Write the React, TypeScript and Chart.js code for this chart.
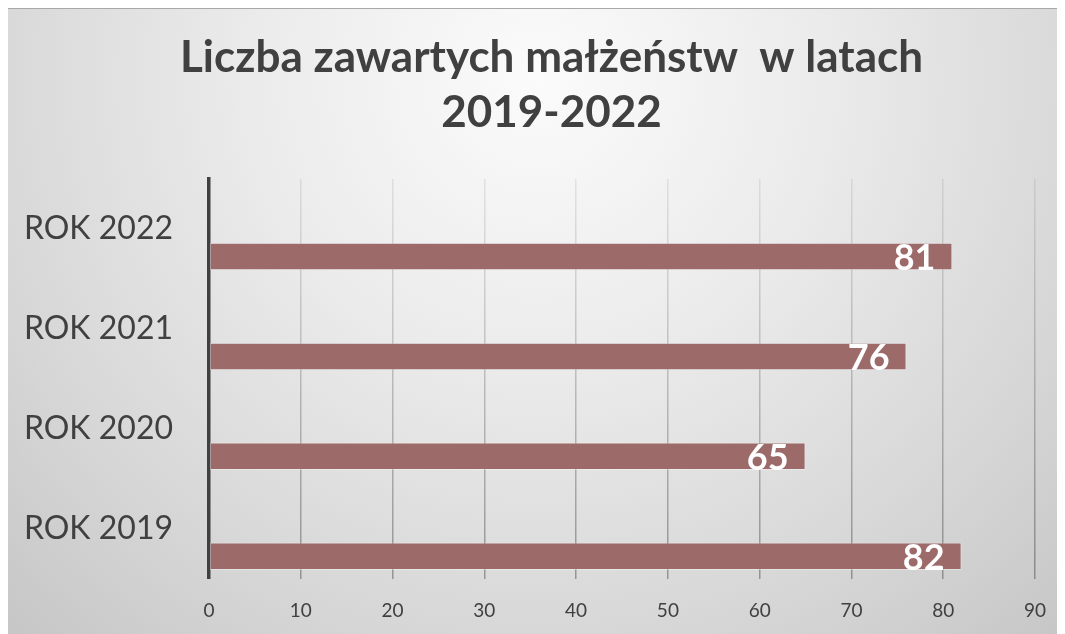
import React, { useEffect, useRef } from 'react';
import { Chart, registerables } from 'chart.js';

Chart.register(...registerables);

const categories = ['ROK 2022', 'ROK 2021', 'ROK 2020', 'ROK 2019'];
const values = [81, 76, 65, 82];
const emptySeries = [null, null, null, null];
const titleLines = ['Liczba zawartych małżeństw  w latach', '2019-2022'];
const xMin = 0;
const xMax = 90;
const xStep = 10;

const FONT = 'Lato, "Open Sans", sans-serif';
const W = 1051;
const H = 626;

const backgroundPlugin = {
  id: 'bgGradient',
  beforeDraw(chart: any) {
    const { ctx, width, height } = chart;
    ctx.save();
    const g = ctx.createRadialGradient(530, 70, 0, 530, 70, 820);
    g.addColorStop(0, '#fbfbfb');
    g.addColorStop(0.35, '#ebebeb');
    g.addColorStop(0.7, '#d6d6d6');
    g.addColorStop(1, '#c2c2c2');
    ctx.fillStyle = g;
    ctx.fillRect(0, 0, width, height);
    ctx.fillStyle = '#a8a8a8';
    ctx.fillRect(0, 0, width, 1);
    ctx.restore();
  },
};

const titleShiftPlugin = {
  id: 'titleShift',
  afterLayout(chart: any) {
    const t = chart.titleBlock;
    if (t) {
      t.left += 30;
      t.right += 30;
    }
  },
};

const barLabelPlugin = {
  id: 'barLabels',
  afterDatasetsDraw(chart: any) {
    const meta = chart.getDatasetMeta(1);
    const ctx = chart.ctx;
    ctx.save();
    ctx.font = `bold 36px ${FONT}`;
    ctx.fillStyle = '#ffffff';
    ctx.textAlign = 'right';
    ctx.textBaseline = 'alphabetic';
    meta.data.forEach((bar: any, i: number) => {
      const v = chart.data.datasets[1].data[i];
      ctx.fillText(String(v), bar.x - 17, bar.y + 13.5);
    });
    ctx.restore();
  },
};

export default function App() {
  const ref = useRef<HTMLCanvasElement | null>(null);

  useEffect(() => {
    if (!ref.current) return;
    const chart = new Chart(ref.current, {
      type: 'bar',
      data: {
        labels: categories,
        datasets: [
          {
            label: '',
            data: emptySeries as any,
            backgroundColor: '#9c6a69',
          },
          {
            label: 'Liczba',
            data: values,
            backgroundColor: '#9c6a69',
            borderColor: 'rgba(255,255,255,0.35)',
            borderWidth: 1,
            borderSkipped: false,
          },
        ],
      },
      options: {
        indexAxis: 'y',
        responsive: false,
        animation: false,
        categoryPercentage: 1.1,
        barPercentage: 0.5,
        layout: { padding: { left: 0, right: 24, top: 0, bottom: 0 } },
        plugins: {
          legend: { display: false },
          tooltip: { enabled: false },
          title: {
            display: true,
            text: titleLines,
            color: '#404040',
            font: { family: FONT, size: 44, weight: 'bold', lineHeight: 1.25 },
            padding: { top: 22, bottom: 39 },
          },
        },
        scales: {
          x: {
            min: xMin,
            max: xMax,
            ticks: {
              stepSize: xStep,
              color: '#404040',
              font: { family: FONT, size: 19 },
              padding: 21,
            },
            border: { display: false },
            grid: {
              drawTicks: false,
              lineWidth: 1.5,
              color: (c: any) => {
                const a = c.chart.chartArea;
                if (!a) return 'rgba(0,0,0,0.2)';
                const g = c.chart.ctx.createLinearGradient(0, a.top, 0, a.bottom);
                g.addColorStop(0, 'rgba(0,0,0,0.08)');
                g.addColorStop(1, 'rgba(0,0,0,0.32)');
                return g;
              },
            },
            afterFit: (s: any) => {
              s.height = 55;
              s.paddingLeft = 0;
              s.paddingRight = 0;
            },
          },
          y: {
            ticks: {
              color: '#404040',
              font: { family: FONT, size: 32 },
              padding: 36,
            },
            grid: { display: false, drawTicks: false },
            border: { display: true, color: '#404040', width: 3.5 },
            afterFit: (s: any) => {
              s.width = 201;
            },
          },
        },
      },
      plugins: [backgroundPlugin, titleShiftPlugin, barLabelPlugin],
    });
    return () => chart.destroy();
  }, []);

  return (
    <div style={{ width: W, height: H }}>
      <canvas ref={ref} width={W} height={H} style={{ display: 'block' }} />
    </div>
  );
}
